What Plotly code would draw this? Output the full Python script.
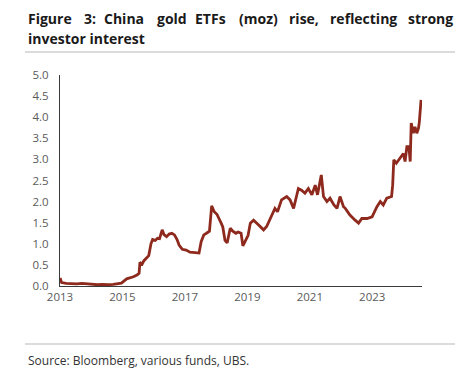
import plotly.graph_objects as go

# Readings of China gold ETF holdings (moz)
dates = [
    "2013-01-02", "2013-01-20", "2013-03-15", "2013-05-15", "2013-07-15", "2013-09-15", "2013-11-15",
    "2014-01-15", "2014-03-15", "2014-05-15", "2014-07-15", "2014-09-15", "2014-11-15", "2014-12-20",
    "2015-02-20", "2015-04-01", "2015-05-10", "2015-06-20", "2015-07-15", "2015-07-25",
    "2015-08-20", "2015-09-10", "2015-10-10", "2015-11-05", "2015-12-01", "2015-12-20",
    "2016-01-20", "2016-02-15", "2016-03-10", "2016-04-10", "2016-05-01", "2016-06-01",
    "2016-07-01", "2016-08-01", "2016-09-01", "2016-10-01", "2016-10-25", "2016-12-01",
    "2017-01-15", "2017-03-01", "2017-05-01", "2017-06-15", "2017-07-10", "2017-08-10",
    "2017-09-10", "2017-10-15", "2017-11-10", "2017-12-10",
    "2018-01-10", "2018-02-01", "2018-03-01", "2018-03-20", "2018-04-15", "2018-05-10",
    "2018-06-15", "2018-07-15", "2018-08-20", "2018-09-15", "2018-10-20", "2018-11-10", "2018-12-15",
    "2019-01-10", "2019-02-05", "2019-03-15", "2019-05-10", "2019-07-10", "2019-08-15",
    "2019-10-10", "2019-11-01", "2019-11-20", "2019-12-20",
    "2020-02-05", "2020-04-05", "2020-05-15", "2020-06-25", "2020-08-20", "2020-09-25",
    "2020-11-05", "2020-12-15",
    "2021-01-25", "2021-03-05", "2021-04-01", "2021-05-15", "2021-06-10", "2021-07-20",
    "2021-08-25", "2021-10-10", "2021-11-15", "2021-12-20",
    "2022-01-30", "2022-02-20", "2022-04-15", "2022-06-15", "2022-07-25", "2022-09-01",
    "2022-11-01", "2022-12-30",
    "2023-02-25", "2023-04-05", "2023-05-10", "2023-06-20", "2023-08-15", "2023-08-28",
    "2023-09-10", "2023-10-10", "2023-11-20", "2023-12-31",
    "2024-01-20", "2024-02-10", "2024-03-05", "2024-03-20", "2024-04-01", "2024-04-25",
    "2024-05-15", "2024-06-05", "2024-06-25", "2024-07-05", "2024-07-25",
]
values = [
    0.19, 0.08, 0.06, 0.05, 0.05, 0.06, 0.05,
    0.04, 0.03, 0.04, 0.03, 0.04, 0.05, 0.07,
    0.17, 0.19, 0.22, 0.26, 0.30, 0.56,
    0.52, 0.60, 0.66, 0.72, 1.00, 1.10,
    1.08, 1.13, 1.12, 1.33, 1.22, 1.17,
    1.23, 1.25, 1.21, 1.10, 0.97, 0.87,
    0.85, 0.80, 0.79, 0.78, 1.05, 1.21,
    1.25, 1.30, 1.90, 1.76,
    1.70, 1.62, 1.49, 1.40, 1.08, 1.02,
    1.37, 1.30, 1.25, 1.28, 1.25, 0.95, 1.10,
    1.20, 1.49, 1.56, 1.45, 1.33, 1.41,
    1.68, 1.76, 1.84, 1.76,
    2.04, 2.12, 2.04, 1.84, 2.31, 2.27,
    2.20, 2.31,
    2.16, 2.39, 2.16, 2.63, 2.12, 2.00,
    2.08, 1.92, 1.84, 2.12,
    1.88, 1.84, 1.68, 1.56, 1.49, 1.60,
    1.60, 1.64,
    1.88, 2.00, 1.92, 2.08, 2.12, 2.39,
    2.99, 2.91, 3.02, 3.14,
    2.95, 3.30, 3.30, 2.95, 3.86, 3.62,
    3.77, 3.62, 3.74, 3.89, 4.41,
]

y_ticks = [0.0, 0.5, 1.0, 1.5, 2.0, 2.5, 3.0, 3.5, 4.0, 4.5, 5.0]
x_ticks = ["2013-01-01", "2015-01-01", "2017-01-01", "2019-01-01", "2021-01-01", "2023-01-01"]
x_tick_labels = ["2013", "2015", "2017", "2019", "2021", "2023"]

title_line1 = ["Figure", "3:", "China", "gold", "ETFs", "(moz)", "rise,", "reflecting", "strong"]
title_line2 = "investor interest"
source_text = "Source: Bloomberg, various funds, UBS."

W, H = 463, 375
L, R, T, B = 60, 41, 75, 89
pw, ph = W - L - R, H - T - B


def px(x):
    return (x - L) / pw


def py(y):
    return (H - B - y) / ph


fig = go.Figure()
fig.add_trace(go.Scatter(
    x=dates, y=values, mode="lines",
    line=dict(color="#8e2a1d", width=2.8),
    hoverinfo="skip", showlegend=False,
))

tick_font = dict(family="Open Sans", size=11.5, color="#5a5a5a")
fig.update_layout(
    width=W, height=H,
    margin=dict(l=L, r=R, t=T, b=B),
    paper_bgcolor="white", plot_bgcolor="white",
    xaxis=dict(
        range=["2013-01-01", "2024-08-05"],
        tickvals=x_ticks, ticktext=x_tick_labels,
        showgrid=False, zeroline=False,
        showline=True, linecolor="#3a3a3a", linewidth=1,
        ticks="", tickfont=tick_font,
    ),
    yaxis=dict(
        range=[0, 5], tickvals=y_ticks, tickformat=".1f",
        showgrid=False, zeroline=False,
        showline=True, linecolor="#3a3a3a", linewidth=1,
        ticks="", tickfont=tick_font, ticklabelstandoff=8,
    ),
)

# Title, justified word by word
word_x = [25.5, 82, 102, 155, 193, 237, 287, 328]
title_font = dict(family="Open Sans", size=14, color="#1a1a1a", weight="bold")
for w, x in zip(title_line1[:-1], word_x):
    fig.add_annotation(text=w, x=px(x), y=py(18), xref="paper", yref="paper",
                       xanchor="left", yanchor="middle", showarrow=False, font=title_font)
fig.add_annotation(text=title_line1[-1], x=px(455), y=py(18), xref="paper", yref="paper",
                   xanchor="right", yanchor="middle", showarrow=False, font=title_font)
fig.add_annotation(text=title_line2, x=px(25.5), y=py(38.5), xref="paper", yref="paper",
                   xanchor="left", yanchor="middle", showarrow=False, font=title_font)

for yy in (52, 344):
    fig.add_shape(type="line", xref="paper", yref="paper",
                  x0=px(25), x1=px(455), y0=py(yy), y1=py(yy),
                  line=dict(color="#cfcfcf", width=1.5))

fig.add_annotation(text=source_text, x=px(25.5), y=py(360), xref="paper", yref="paper",
                   xanchor="left", yanchor="middle", showarrow=False,
                   font=dict(family="Open Sans", size=12, color="#333333"))

fig.write_html("out.html", config={"displayModeBar": False},
               post_script="document.body.style.margin='0';")
